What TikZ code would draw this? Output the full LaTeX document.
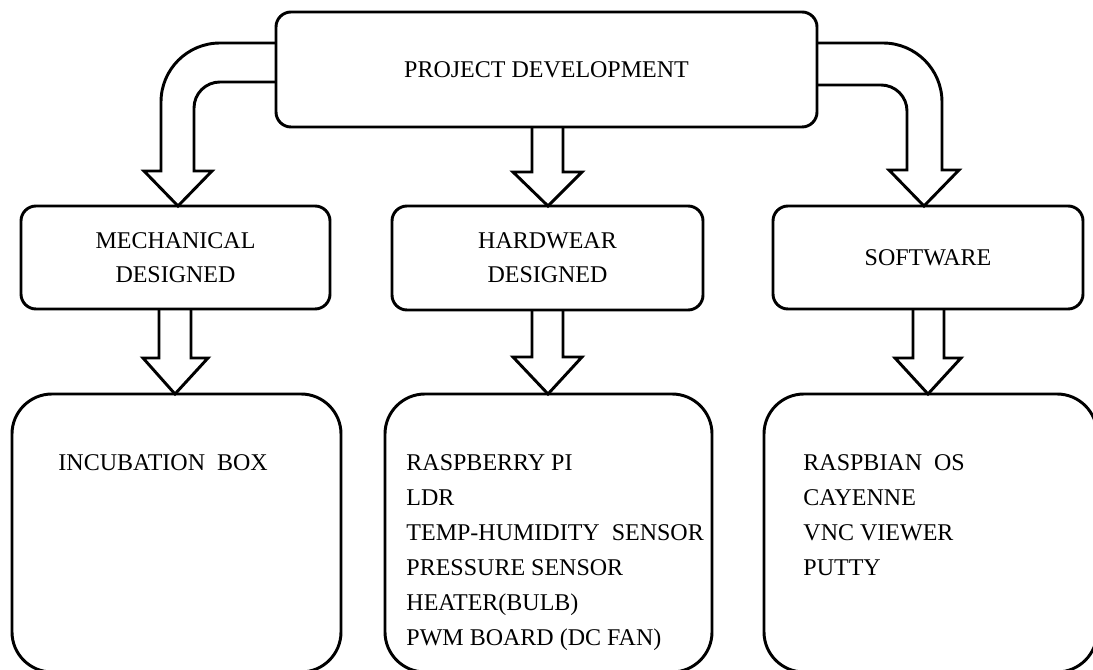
\documentclass[tikz,border=0pt]{standalone}
\usepackage{fontspec}
\setmainfont{Liberation Serif}
\begin{document}
\begin{tikzpicture}[x=0.75pt,y=-0.75pt,line width=2.2pt,
  txt/.style={font=\fontsize{18}{25.5}\selectfont},
  smallbox/.style={draw,rounded corners=11.25pt,inner sep=0pt,align=center,txt},
  bigbox/.style={draw,rounded corners=30pt,inner sep=0pt},
  listline/.style={txt,inner sep=0pt,anchor=base west},
  blockarrow/.style={draw,line join=miter,miter limit=10}]
\useasboundingbox (0,0) rectangle (1093,670);
\clip (0,0) rectangle (1093,670);

% block arrows (drawn first, boxes on top)
\draw[blockarrow] (276,43) -- (220,43) .. controls (187.4,43) and (161,69.4) .. (161,102)
  -- (161,171) -- (144,171) -- (178,206) -- (212,171) -- (194,171) -- (194,108)
  .. controls (194,93.6) and (205.6,82) .. (220,82) -- (276,82);
\draw[blockarrow] (817,43) -- (883,43) .. controls (915.6,43) and (942,69.4) .. (942,102)
  -- (942,170) -- (959,170) -- (924,206) -- (889,170) -- (907,170) -- (907,111)
  .. controls (907,96.6) and (895.4,85) .. (881,85) -- (817,85);
\draw[blockarrow] (532,127) -- (532,172) -- (513,172) -- (548,206) -- (582,172) -- (563,172) -- (563,127);
\draw[blockarrow] (159,309) -- (159,358) -- (143,358) -- (175,394) -- (208,358) -- (191,358) -- (191,309);
\draw[blockarrow] (532,310) -- (532,357) -- (513,357) -- (548,394) -- (582,357) -- (563,357) -- (563,310);
\draw[blockarrow] (913,309) -- (913,358) -- (895,358) -- (928,394) -- (961,358) -- (944,358) -- (944,309);

% boxes
\node[smallbox,minimum width=405.75pt,minimum height=86.25pt] (top) at (546.5,69.5) {PROJECT DEVELOPMENT};
\node[smallbox,minimum width=231.75pt,minimum height=77.25pt] (mech) at (175.5,257.5) {MECHANICAL\\DESIGNED};
\node[smallbox,minimum width=233.25pt,minimum height=78pt] (hard) at (547.5,258) {HARDWEAR\\DESIGNED};
\node[smallbox,minimum width=232.5pt,minimum height=77.25pt] (soft) at (928,257.5) {SOFTWARE};

\node[bigbox,minimum width=246.75pt,minimum height=208.5pt] (mechlist) at (176.5,533) {};
\node[bigbox,minimum width=245.25pt,minimum height=208.5pt] (hardlist) at (548.5,533) {};
\node[bigbox,minimum width=249.75pt,minimum height=208.5pt] (softlist) at (930.5,533) {};

% list texts
\node[listline] (m1) at (57,470) {INCUBATION\ \ BOX};

\node[listline] (h1) at (405,470) {RASPBERRY PI};
\node[listline] (h2) at (405,505) {LDR};
\node[listline] (h3) at (405,540) {TEMP-HUMIDITY\ \ SENSOR};
\node[listline] (h4) at (405,575) {PRESSURE SENSOR};
\node[listline] (h5) at (405,610) {HEATER(BULB)};
\node[listline] (h6) at (405,645) {PWM BOARD (DC FAN)};

\node[listline] (s1) at (802,470) {RASPBIAN\ \ OS};
\node[listline] (s2) at (802,505) {CAYENNE};
\node[listline] (s3) at (802,540) {VNC VIEWER};
\node[listline] (s4) at (802,575) {PUTTY};
\end{tikzpicture}
\end{document}
